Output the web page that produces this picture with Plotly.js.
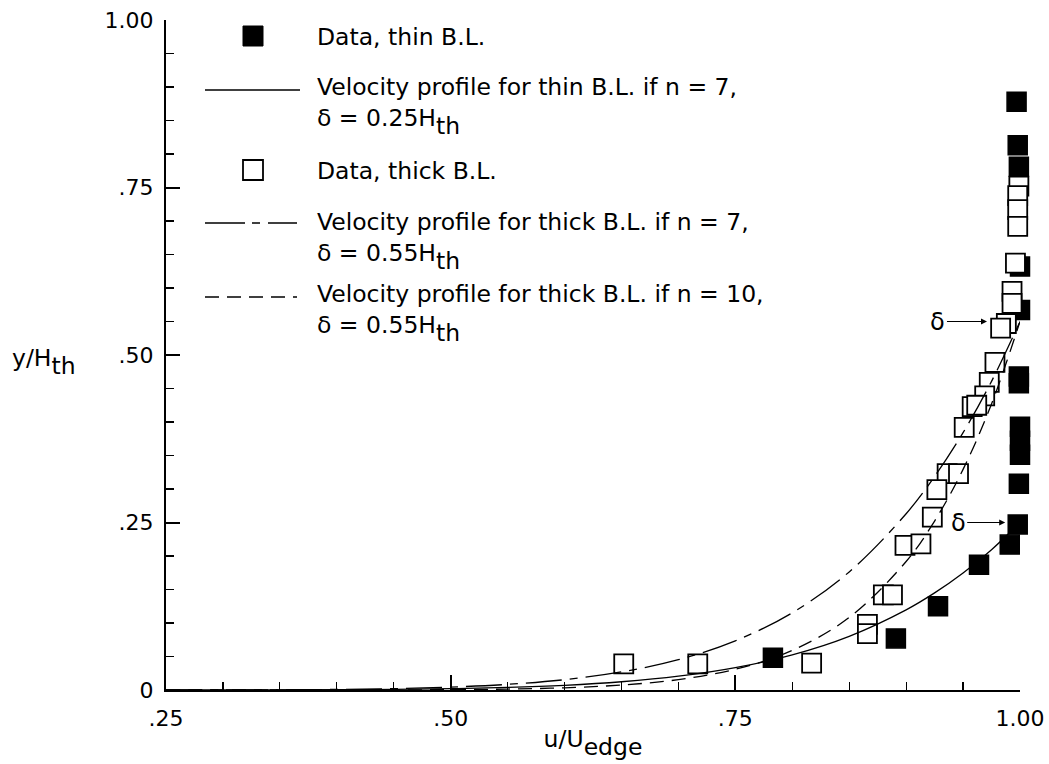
<!DOCTYPE html>
<html>
<head>
<meta charset="utf-8">
<script src="https://cdn.plot.ly/plotly-3.0.1.min.js"></script>
<style>
html,body{margin:0;padding:0;background:#fff;}
#chart{width:1049px;height:764px;}
</style>
</head>
<body>
<div id="chart"></div>
<script>
// ---- data ----
const thinU = [0.997, 0.998, 0.999, 1.000, 1.000, 0.999, 0.999, 1.000, 1.000, 1.000, 0.999, 0.998, 0.991, 0.964, 0.928, 0.891, 0.783];
const thinY = [0.878, 0.813, 0.781, 0.632, 0.567, 0.468, 0.458, 0.393, 0.372, 0.351, 0.308, 0.247, 0.217, 0.187, 0.125, 0.077, 0.048];

const thickU = [0.999, 0.998, 0.998, 0.998, 0.996, 0.993, 0.993, 0.988, 0.983, 0.978, 0.973, 0.969, 0.958, 0.962, 0.951, 0.936, 0.946, 0.927, 0.923, 0.899, 0.913, 0.652, 0.717, 0.817, 0.866, 0.866, 0.880, 0.888];
const thickY = [0.752, 0.738, 0.717, 0.692, 0.637, 0.595, 0.577, 0.547, 0.540, 0.489, 0.459, 0.439, 0.423, 0.425, 0.392, 0.323, 0.323, 0.299, 0.258, 0.216, 0.218, 0.039, 0.039, 0.040, 0.098, 0.084, 0.142, 0.142];

const profileU        = [0.25, 0.30, 0.35, 0.40, 0.45, 0.50, 0.55, 0.60, 0.65, 0.70, 0.75, 0.80, 0.85, 0.90, 0.925, 0.95, 0.975, 1.00];
const thinProfileN7   = [0.000015, 0.000055, 0.00016, 0.00041, 0.00093, 0.00195, 0.0038, 0.0070, 0.0123, 0.0206, 0.0334, 0.0524, 0.0801, 0.1196, 0.1449, 0.1746, 0.2094, 0.25];
const thickProfileN7  = [0.000034, 0.00012, 0.00035, 0.0009, 0.00206, 0.0043, 0.0084, 0.0154, 0.0270, 0.0453, 0.0734, 0.1153, 0.1763, 0.2631, 0.3187, 0.3841, 0.4607, 0.55];
const thickProfileN10 = [0.000001, 0.000003, 0.000015, 0.000058, 0.00019, 0.00054, 0.0014, 0.0033, 0.0074, 0.0155, 0.0310, 0.0591, 0.1083, 0.1918, 0.2522, 0.3293, 0.4270, 0.55];

const deltaLevels = [0.55, 0.25];
const deltaTipU   = [0.971, 0.987];

const xTickVals = [0.25, 0.50, 0.75, 1.00];
const xTickText = ['.25', '.50', '.75', '1.00'];
const yTickVals = [0, 0.25, 0.50, 0.75, 1.00];
const yTickText = ['0', '.25', '.50', '.75', '1.00'];
const xMinorVals = [0.30,0.35,0.40,0.45,0.55,0.60,0.65,0.70,0.80,0.85,0.90,0.95];
const yMinorVals = [0.05,0.10,0.15,0.20,0.30,0.35,0.40,0.45,0.55,0.60,0.65,0.70,0.80,0.85,0.90,0.95];

const SUB = s => '<sub><sub><span style="font-size:23.5px">' + s + '</span></sub></sub>';
const legendTexts = [
  'Data, thin B.L.',
  'Velocity profile for thin B.L. if n = 7,<br>δ = 0.25H' + SUB('th'),
  'Data, thick B.L.',
  'Velocity profile for thick B.L. if n = 7,<br>δ = 0.55H' + SUB('th'),
  'Velocity profile for thick B.L. if n = 10,<br>δ = 0.55H' + SUB('th')
];

// ---- layout helpers (pixel -> paper) ----
const L = 166, R = 29, T = 20, B = 74, W = 1049, H = 764;
const pw = W - L - R, ph = H - T - B;
const px = p => (p - L) / pw;
const py = p => (H - B - p) / ph;

const FONT = 'DejaVu Sans, Liberation Sans, Arial, sans-serif';
const DASHDOT = '36px,8px,8px,8px';
const DASHED = '14px,8px';

const traces = [
  {x: thinU, y: thinY, type: 'scatter', mode: 'markers', cliponaxis: false, showlegend: false,
   marker: {symbol: 'square', size: 19, color: '#000', line: {color: '#000', width: 1.5}}},
  {x: thickU, y: thickY, type: 'scatter', mode: 'markers', cliponaxis: false, showlegend: false,
   marker: {symbol: 'square', size: 19, color: '#fff', line: {color: '#000', width: 1.8}}},
  {x: profileU, y: thinProfileN7, type: 'scatter', mode: 'lines', showlegend: false,
   line: {color: '#000', width: 1.3, shape: 'spline'}},
  {x: profileU, y: thickProfileN7, type: 'scatter', mode: 'lines', showlegend: false,
   line: {color: '#000', width: 1.3, dash: DASHDOT, shape: 'spline'}},
  {x: profileU, y: thickProfileN10, type: 'scatter', mode: 'lines', showlegend: false,
   line: {color: '#000', width: 1.3, dash: DASHED, shape: 'spline'}}
];

const shapes = [
  {type: 'rect', xref: 'paper', yref: 'paper', x0: px(243), x1: px(263), y0: py(46), y1: py(26),
   fillcolor: '#000', line: {color: '#000', width: 1}},
  {type: 'line', xref: 'paper', yref: 'paper', x0: px(205), x1: px(300), y0: py(90), y1: py(90),
   line: {color: '#000', width: 1.3}},
  {type: 'rect', xref: 'paper', yref: 'paper', x0: px(243), x1: px(263), y0: py(180), y1: py(160),
   fillcolor: '#fff', line: {color: '#000', width: 1.8}},
  {type: 'line', xref: 'paper', yref: 'paper', x0: px(205), x1: px(297), y0: py(223), y1: py(223),
   line: {color: '#000', width: 1.3, dash: '40px,7px,8px,8px'}},
  {type: 'line', xref: 'paper', yref: 'paper', x0: px(205), x1: px(297), y0: py(297), y1: py(297),
   line: {color: '#000', width: 1.3, dash: DASHED}}
];

// single-line entries centred on the line; two-line entries centred on the block
const legendY = [37, 106, 171, 241, 313];
const annotations = legendTexts.map((t, i) => ({
  xref: 'paper', yref: 'paper', x: px(315), y: py(legendY[i]), xanchor: 'left', yanchor: 'middle',
  text: t, showarrow: false, align: 'left', font: {family: FONT, size: 23.5, color: '#000'}
}));

deltaLevels.forEach((lv, i) => {
  annotations.push({
    xref: 'x', yref: 'y', x: deltaTipU[i], y: lv, text: 'δ', showarrow: true,
    ax: i === 0 ? -49 : -47, ay: 0, arrowhead: 2, arrowsize: 1, arrowwidth: 1.2, standoff: 0,
    arrowcolor: '#000', font: {family: FONT, size: 24, color: '#000'}
  });
});

annotations.push({
  xref: 'paper', yref: 'paper', x: px(10), y: py(362), xanchor: 'left', yanchor: 'middle',
  text: 'y/H' + SUB('th'), showarrow: false, font: {family: FONT, size: 23.5, color: '#000'}
});

const tickFont = {family: FONT, size: 22, color: '#000'};

const layout = {
  width: W, height: H,
  margin: {l: L, r: R, t: T, b: B, pad: 0},
  paper_bgcolor: '#fff', plot_bgcolor: '#fff',
  showlegend: false,
  font: {family: FONT, size: 22, color: '#000'},
  xaxis: {
    range: [0.25, 1.0], showgrid: false, zeroline: false,
    showline: true, linecolor: '#000', linewidth: 2, mirror: false,
    tickmode: 'array', tickvals: xTickVals, ticktext: xTickText,
    ticks: 'inside', ticklen: 15, tickwidth: 2, tickcolor: '#000',
    ticklabelstandoff: 8,
    tickfont: tickFont,
    minor: {tickmode: 'array', tickvals: xMinorVals, ticks: 'inside', ticklen: 8, tickwidth: 1.2, tickcolor: '#000', showgrid: false},
    title: {text: 'u/U' + SUB('edge'), font: {family: FONT, size: 23.5, color: '#000'}, standoff: 0}
  },
  yaxis: {
    range: [0, 1.0], showgrid: false, zeroline: false,
    showline: true, linecolor: '#000', linewidth: 2, mirror: false,
    tickmode: 'array', tickvals: yTickVals, ticktext: yTickText,
    ticks: 'inside', ticklen: 14, tickwidth: 2, tickcolor: '#000',
    ticklabelstandoff: 6,
    tickfont: tickFont,
    minor: {tickmode: 'array', tickvals: yMinorVals, ticks: 'inside', ticklen: 8, tickwidth: 1.2, tickcolor: '#000', showgrid: false}
  },
  shapes: shapes,
  annotations: annotations
};

Plotly.newPlot('chart', traces, layout, {staticPlot: true, displayModeBar: false});
</script>
</body>
</html>
